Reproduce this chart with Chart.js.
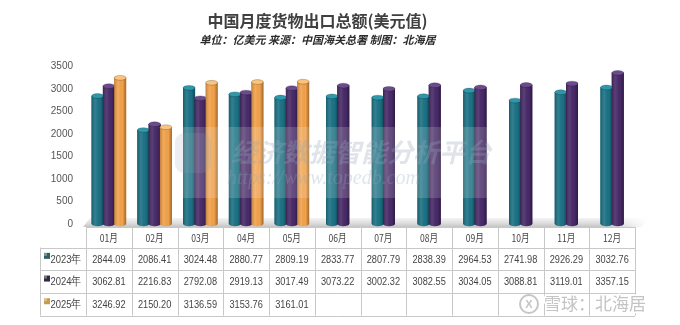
<!DOCTYPE html>
<html>
<head>
<meta charset="utf-8">
<script src="https://cdn.jsdelivr.net/npm/chart.js@4"></script>
<style>
  html, body { margin: 0; padding: 0; background: #fff; }
  #wrap { width: 680px; height: 325px; }
</style>
</head>
<body>
<div id="wrap"><canvas id="myChart" width="680" height="325"></canvas></div>
<script>
var months = ['01月', '02月', '03月', '04月', '05月', '06月', '07月', '08月', '09月', '10月', '11月', '12月'];
var seriesNames = ['2023年', '2024年', '2025年'];
var exp2023 = [2844.09, 2086.41, 3024.48, 2880.77, 2809.19, 2833.77, 2807.79, 2838.39, 2964.53, 2741.98, 2926.29, 3032.76];
var exp2024 = [3062.81, 2216.83, 2792.08, 2919.13, 3017.49, 3073.22, 3002.32, 3082.55, 3034.05, 3088.81, 3119.01, 3357.15];
var exp2025 = [3246.92, 2150.20, 3136.59, 3153.76, 3161.01, null, null, null, null, null, null, null];
var yMax = 3500;
var yStep = 500;

var barColors = ['#1b7285', '#482a68', '#f2a24a'];
var capColors = ['#2d98ab', '#6b4b8e', '#fbc47e'];
var keyColors = ['#2f5f63', '#2e2a40', '#c89a4a'];

var FONT_CJK = '"Noto Sans CJK SC", "Noto Sans", sans-serif';
var FONT_NUM = '"Liberation Sans", Arial, sans-serif';

function squeezedText(ctx, text, x, y, align, font, sx, color) {
    ctx.save();
    ctx.font = font;
    ctx.fillStyle = color;
    ctx.textBaseline = 'middle';
    ctx.textAlign = align;
    ctx.translate(x, y);
    ctx.scale(sx, 1);
    ctx.fillText(text, 0, 0);
    ctx.restore();
}

// centre the two bars of the months that have no 2025 value
var centerPairs = {
    id: 'centerPairs',
    afterDatasetsUpdate: function (chart) {
        for (var i = 0; i < months.length; i++) {
            if (exp2025[i] === null) {
                var step = chart.getDatasetMeta(1).data[i].x - chart.getDatasetMeta(0).data[i].x;
                for (var d = 0; d < 2; d++) {
                    chart.getDatasetMeta(d).data[i].x += step / 2;
                }
            }
        }
    }
};

// grey 3D floor under the bars
var floor = {
    id: 'floor',
    beforeDatasetsDraw: function (chart) {
        var ctx = chart.ctx, ca = chart.chartArea;
        var top = ca.bottom - 6, bot = ca.bottom + 3;
        var left = ca.left - 3, right = ca.right + 12;
        ctx.save();
        var g = ctx.createLinearGradient(0, top, 0, bot);
        g.addColorStop(0, '#f4f4f4');
        g.addColorStop(0.6, '#dcdcdc');
        g.addColorStop(1, '#c4c4c4');
        ctx.fillStyle = g;
        ctx.beginPath();
        ctx.moveTo(left + 7, top);
        ctx.lineTo(right, top);
        ctx.lineTo(right - 6, bot);
        ctx.lineTo(left, bot);
        ctx.closePath();
        ctx.fill();
        var f = ctx.createLinearGradient(right - 40, 0, right, 0);
        f.addColorStop(0, 'rgba(255,255,255,0)');
        f.addColorStop(1, 'rgba(255,255,255,1)');
        ctx.fillStyle = f;
        ctx.fill();
        ctx.restore();
    }
};

// cylinder shading + caps, then the watermark
var cylinders = {
    id: 'cylinders',
    afterDatasetsDraw: function (chart) {
        var ctx = chart.ctx;
        ctx.save();
        chart.data.datasets.forEach(function (ds, d) {
            chart.getDatasetMeta(d).data.forEach(function (el, i) {
                if (ds.data[i] === null || isNaN(el.y)) return;
                var w = el.width, x0 = el.x - w / 2, x1 = el.x + w / 2;
                var g = ctx.createLinearGradient(x0, 0, x1, 0);
                g.addColorStop(0, 'rgba(0,0,0,0.22)');
                g.addColorStop(0.35, 'rgba(255,255,255,0.09)');
                g.addColorStop(0.7, 'rgba(0,0,0,0)');
                g.addColorStop(1, 'rgba(0,0,0,0.35)');
                ctx.fillStyle = barColors[d];
                ctx.fillRect(x0, el.y, w, el.base - el.y);
                ctx.beginPath();
                ctx.ellipse(el.x, el.base, w / 2, 2.2, 0, 0, Math.PI);
                ctx.fill();
                ctx.fillStyle = g;
                ctx.fillRect(x0, el.y, w, el.base - el.y);
                ctx.beginPath();
                ctx.ellipse(el.x, el.base, w / 2, 2.2, 0, 0, Math.PI);
                ctx.fill();
                ctx.beginPath();
                ctx.ellipse(el.x, el.y, w / 2, 2.4, 0, 0, Math.PI * 2);
                ctx.fillStyle = capColors[d];
                ctx.fill();
                ctx.lineWidth = 0.6;
                ctx.strokeStyle = 'rgba(0,0,0,0.35)';
                ctx.stroke();
            });
        });

        // faint watermark
        ctx.fillStyle = 'rgba(255,255,255,0.16)';
        ctx.fillRect(178, 127, 322, 71);
        ctx.fillStyle = 'rgba(150,160,175,0.18)';
        ctx.beginPath();
        ctx.roundRect(175, 133, 36, 40, 9);
        ctx.fill();
        ctx.fillStyle = 'rgba(150,165,185,0.3)';
        ctx.font = 'italic bold 26px ' + FONT_CJK;
        ctx.textAlign = 'left';
        ctx.textBaseline = 'middle';
        ctx.fillText('经济数据智能分析平台', 231, 152);
        ctx.font = 'italic 20px "Liberation Serif", serif';
        ctx.fillText('https://www.topedb.com', 227, 179);
        ctx.restore();
    }
};

// data table under the plot, columns follow the x scale
var dataTable = {
    id: 'dataTable',
    afterDraw: function (chart) {
        var ctx = chart.ctx, x = chart.scales.x, ca = chart.chartArea;
        var n = months.length;
        var colW = (x.right - x.left) / n;
        var top = ca.bottom + 3, headH = 20.5, rowH = 22.7;
        var labelLeft = 40;
        var rows = [exp2023, exp2024, exp2025];
        var bottom = top + headH + rowH * rows.length;

        ctx.save();
        ctx.strokeStyle = '#c8c8c8';
        ctx.lineWidth = 1;
        ctx.beginPath();
        ctx.moveTo(x.left, top + 0.5);
        ctx.lineTo(x.right, top + 0.5);
        for (var r = 0; r <= rows.length; r++) {
            var yy = Math.round(top + headH + r * rowH) + 0.5;
            ctx.moveTo(labelLeft, yy);
            ctx.lineTo(x.right, yy);
        }
        ctx.moveTo(labelLeft + 0.5, top + headH);
        ctx.lineTo(labelLeft + 0.5, bottom);
        for (var c = 0; c <= n; c++) {
            var xx = Math.round(x.left + c * colW) + 0.5;
            ctx.moveTo(xx, top);
            ctx.lineTo(xx, bottom);
        }
        ctx.stroke();
        ctx.restore();

        for (var i = 0; i < n; i++) {
            var cx = x.getPixelForValue(i);
            squeezedText(ctx, months[i], cx, top + headH / 2 + 1, 'center', '11px ' + FONT_CJK, 0.78, '#444');
            rows.forEach(function (vals, r) {
                if (vals[i] === null) return;
                squeezedText(ctx, vals[i].toFixed(2), cx, top + headH + rowH * (r + 0.5) + 0.5,
                    'center', '11.5px ' + FONT_NUM, 0.8, '#444');
            });
        }
        rows.forEach(function (vals, r) {
            var cy = top + headH + rowH * (r + 0.5);
            ctx.fillStyle = keyColors[r];
            ctx.fillRect(44, cy - 6, 6, 6);
            ctx.fillStyle = 'rgba(255,255,255,0.35)';
            ctx.fillRect(44, cy - 6, 3, 3);
            squeezedText(ctx, seriesNames[r], 50.5, cy + 0.5, 'left', '11.5px ' + FONT_NUM, 0.82, '#444');
        });

        // 雪球 watermark
        ctx.save();
        ctx.strokeStyle = '#c6c6c6';
        ctx.lineWidth = 2;
        ctx.beginPath();
        ctx.arc(529, 304, 9, 0, Math.PI * 2);
        ctx.stroke();
        ctx.font = '17px ' + FONT_CJK;
        ctx.textAlign = 'left';
        ctx.textBaseline = 'middle';
        ctx.lineWidth = 3;
        ctx.strokeStyle = '#ffffff';
        ctx.strokeText('雪球：北海居', 544, 304);
        ctx.fillStyle = '#c4c4c4';
        ctx.fillText('雪球：北海居', 544, 304);
        ctx.font = 'bold 11px ' + FONT_NUM;
        ctx.textAlign = 'center';
        ctx.fillText('X', 529, 304.5);
        ctx.restore();
    }
};

var ctx = document.getElementById('myChart').getContext('2d');
var myChart = new Chart(ctx, {
    type: 'bar',
    data: {
        labels: months,
        datasets: [{
            label: seriesNames[0],
            data: exp2023,
            backgroundColor: barColors[0],
            categoryPercentage: 0.74,
            barPercentage: 1.06},
        {
            label: seriesNames[1],
            data: exp2024,
            backgroundColor: barColors[1],
            categoryPercentage: 0.74,
            barPercentage: 1.06},
        {
            label: seriesNames[2],
            data: exp2025,
            backgroundColor: barColors[2],
            categoryPercentage: 0.74,
            barPercentage: 1.06}
        ]
    },
    options: {
        responsive: false,
        animation: false,
        events: [],
        layout: {
            padding: { left: 0, right: 45, top: 0, bottom: 101 }
        },
        plugins: {
            legend: { display: false },
            tooltip: { enabled: false },
            title: {
                display: true,
                text: '中国月度货物出口总额(美元值)',
                color: '#404040',
                font: { family: FONT_CJK, size: 16, weight: 'bold' },
                padding: { top: 11, bottom: 3 }
            },
            subtitle: {
                display: true,
                text: '单位：亿美元 来源：中国海关总署 制图：北海居',
                color: '#2b2b2b',
                font: { family: FONT_CJK, size: 11, weight: 'bold', style: 'italic' },
                padding: { top: 0, bottom: 20 }
            }
        },
        scales: {
            x: {
                display: false
            },
            y: {
                min: 0,
                max: yMax,
                afterFit: function (scale) { scale.width = 86; },
                grid: { display: false, drawTicks: false },
                border: { display: false },
                ticks: {
                    stepSize: yStep,
                    padding: 13,
                    color: '#555',
                    font: { family: FONT_NUM, size: 10 },
                    callback: function (v) { return String(v); }
                }
            }
        }
    },
    plugins: [centerPairs, floor, cylinders, dataTable]
});
</script>
</body>
</html>
